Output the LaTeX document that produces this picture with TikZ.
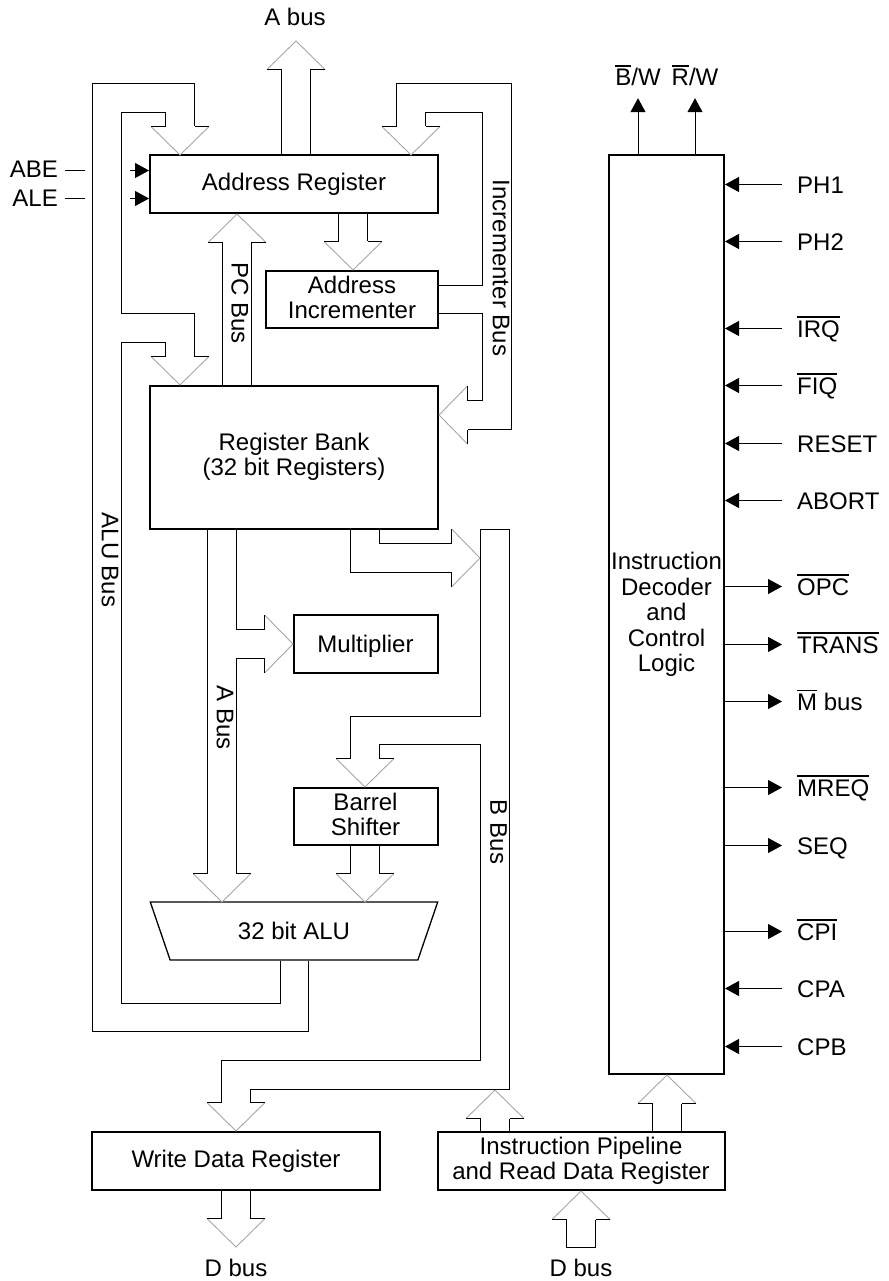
\documentclass[tikz,border=0pt]{standalone}
\usepackage{fontspec}
\setmainfont{Liberation Sans}
\usepackage{tikz}
\usetikzlibrary{arrows.meta,calc,shapes.geometric}

% head of a hollow bus arrow: name, tip, angle (0 south, 90 east, 180 north, 270 west)
\newcommand{\buscap}[3]{%
  \begin{scope}[shift={(#2)},rotate=#3]
    \draw[headline] (-29,-28.5) -- (0,0) -- (29,-28.5);
    \draw[busline] (-29,-28.5) -- (-14.5,-28.5) coordinate (#1l);
    \draw[busline] (29,-28.5) -- (14.5,-28.5) coordinate (#1r);
  \end{scope}}
\newcommand{\ovl}[1]{\leavevmode\vbox{\hrule height 1.7pt \kern 2.6pt \hbox{#1}}}

\begin{document}
\begin{tikzpicture}[
  x=1pt, y=-1pt,
  font=\fontsize{24}{25.5}\selectfont,
  box/.style={draw, line width=2pt, inner sep=0pt, align=center},
  busline/.style={draw, line width=1pt},
  headline/.style={draw, line width=0.9pt, gray!70},
  sigin/.style={line width=1pt, -{Triangle[length=14pt,width=15pt]}},
  sigout/.style={line width=1pt, -{Triangle[length=14pt,width=15pt]}},
  sigtext/.style={inner sep=0pt, text height=18pt, text depth=0pt, anchor=west},
  vertlabel/.style={inner sep=0pt, rotate=-90}
]
  \useasboundingbox (0,0) rectangle (888,1281);

  % Nodes
  \node[box, minimum width=288, minimum height=58] (areg) at (294,184.5) {Address Register};
  \node[box, minimum width=172, minimum height=57, text depth=4pt] (ainc) at (352,299.5) {Address\\Incrementer};
  \node[box, minimum width=288, minimum height=143] (rbank) at (294,457) {Register Bank\\(32 bit Registers)};
  \node[box, minimum width=144, minimum height=58, text height=17pt, text depth=0pt] (mult) at (365.5,644) {Multiplier};
  \node[box, minimum width=144, minimum height=57, text depth=3pt] (bshift) at (365.5,816) {Barrel\\Shifter};
  \node[draw, line width=1.3pt, trapezium, trapezium angle=63, shape border rotate=180,
        trapezium stretches=true, inner sep=0pt, minimum width=288, minimum height=58] (alu) at (294,931) {32 bit ALU};
  \node[box, minimum width=288, minimum height=58] (wdata) at (236,1161) {Write Data Register};
  \node[box, minimum width=287, minimum height=58] (pipe) at (581,1161) {Instruction Pipeline\\and Read Data Register};
  \node[box, minimum width=115, minimum height=919] (ctrl) at (666.5,614.5) {Instruction\\Decoder\\and\\Control\\Logic};

  \node[inner sep=0pt] (abuslabel) at (295,17) {A bus};
  \node[inner sep=0pt] (dout) at (236,1268) {D bus};
  \node[inner sep=0pt] (din) at (581,1268) {D bus};

  \node[vertlabel] (pclabel) at (240,303) {PC Bus};
  \node[vertlabel] (inclabel) at (501,268) {Incrementer Bus};
  \node[vertlabel] (alulabel) at (110,560) {ALU Bus};
  \node[vertlabel] (alabel) at (225,718) {A Bus};
  \node[vertlabel] (blabel) at (498.5,832) {B Bus};

  \node[sigtext, anchor=east] (abe) at (58,169) {ABE};
  \node[sigtext, anchor=east] (ale) at (58,197.5) {ALE};
  \node[sigtext, anchor=center] (bw) at (638,77) {\ovl{B}/W};
  \node[sigtext, anchor=center] (rw) at (695,77) {\ovl{R}/W};

  \node[sigtext] (ph1) at (797,184.5) {PH1};
  \node[sigtext] (ph2) at (797,241.5) {PH2};
  \node[sigtext] (irq) at (797,328.5) {\ovl{IRQ}};
  \node[sigtext] (fiq) at (797,385.5) {\ovl{FIQ}};
  \node[sigtext] (reset) at (797,443.5) {RESET};
  \node[sigtext] (abort) at (797,500.5) {ABORT};
  \node[sigtext] (opc) at (797,586.5) {\ovl{OPC}};
  \node[sigtext] (trans) at (797,644.5) {\ovl{TRANS}};
  \node[sigtext] (mbus) at (797,701.5) {\ovl{M} bus};
  \node[sigtext] (mreq) at (797,787.5) {\ovl{MREQ}};
  \node[sigtext] (seq) at (797,845.5) {SEQ};
  \node[sigtext] (cpi) at (797,931.5) {\ovl{CPI}};
  \node[sigtext] (cpa) at (797,988.5) {CPA};
  \node[sigtext] (cpb) at (797,1046.5) {CPB};

  % Bus heads
  \buscap{aout}{296,41}{180}
  \buscap{alua}{180,155}{0}
  \buscap{aluc}{180,385}{0}
  \buscap{inca}{411,155}{0}
  \buscap{incb}{439,415}{270}
  \buscap{pc}{237,214}{180}
  \buscap{incin}{353,270}{0}
  \buscap{bin}{480,558}{90}
  \buscap{mul}{293,644}{90}
  \buscap{bsin}{365,787}{0}
  \buscap{aop}{222,902}{0}
  \buscap{bop}{365,902}{0}
  \buscap{wd}{236,1131}{0}
  \buscap{dw}{236,1247}{0}
  \buscap{pb}{495,1090}{180}
  \buscap{pcc}{667,1075}{180}
  \buscap{dr}{581,1191}{180}

  % Buses
  \draw[busline] (aoutl) -- (aoutl |- areg.north);
  \draw[busline] (aoutr) -- (aoutr |- areg.north);
  \draw[busline] ([xshift=14.5pt]alu.south) |- (92.5,1031.5) |- (194.5,83.5) -- (aluar);
  \draw[busline] (alual) |- (121.5,112.5) -- (121.5,313.5) -| (alucr);
  \draw[busline] (alucl) |- (121.5,342.5) -- (121.5,1003.5) -| ([xshift=-13.5pt]alu.south);
  \draw[busline] (incal) |- (511.5,83.5) |- (incbr);
  \draw[busline] (incar) |- (482.5,112.5) |- ([yshift=14pt]ainc.east);
  \draw[busline] ([yshift=-14pt]ainc.east) -| (482.5,400.5) -- (incbl);
  \draw[busline] (pcl) -- (pcl |- rbank.north);
  \draw[busline] (pcr) -- (pcr |- rbank.north);
  \draw[busline] (incinl |- areg.south) -- (incinl);
  \draw[busline] (incinr |- areg.south) -- (incinr);
  \draw[busline] (bsinl |- rbank.south) |- (binl);
  \draw[busline] (bsinr |- rbank.south) |- (binr);
  \draw[busline] (aopl |- rbank.south) -- (aopl);
  \draw[busline] (aopr |- rbank.south) |- (mulr);
  \draw[busline] (mull) -| (aopr);
  \draw[busline] (wdr) |- (509.5,1089.5) |- (480.5,529.5) -- (480.5,716.5) -| (bsinl);
  \draw[busline] (bsinr) |- (480.5,744.5) -- (480.5,1060.5) -| (wdl);
  \draw[busline] (bopl |- bshift.south) -- (bopl);
  \draw[busline] (bopr |- bshift.south) -- (bopr);
  \draw[busline] (dwl |- wdata.south) -- (dwl);
  \draw[busline] (dwr |- wdata.south) -- (dwr);
  \draw[busline] (pbl) -- (pbl |- pipe.north);
  \draw[busline] (pbr) -- (pbr |- pipe.north);
  \draw[busline] (pccl) -- (pccl |- pipe.north);
  \draw[busline] (pccr) -- (pccr |- pipe.north);
  \draw[busline] (drl) |- (566.5,1247.5) -- (drr);

  % Arrows
  \draw[line width=1pt] (64.5,170.5) -- (85,170.5);
  \draw[line width=1pt] (64.5,198.5) -- (85,198.5);
  \draw[sigout] (130,170.5) -- (areg.west |- 0,170.5);
  \draw[sigout] (130,198.5) -- (areg.west |- 0,198.5);
  \draw[sigout] (ctrl.north -| bw) -- ([yshift=-12pt]bw.south);
  \draw[sigout] (ctrl.north -| rw) -- ([yshift=-12pt]rw.south);
  \draw[sigin] ([xshift=-15pt]ph1.west) -- (ctrl.east |- ph1.west);
  \draw[sigin] ([xshift=-15pt]ph2.west) -- (ctrl.east |- ph2.west);
  \draw[sigin] ([xshift=-15pt]irq.west) -- (ctrl.east |- irq.west);
  \draw[sigin] ([xshift=-15pt]fiq.west) -- (ctrl.east |- fiq.west);
  \draw[sigin] ([xshift=-15pt]reset.west) -- (ctrl.east |- reset.west);
  \draw[sigin] ([xshift=-15pt]abort.west) -- (ctrl.east |- abort.west);
  \draw[sigout] (ctrl.east |- opc.west) -- ([xshift=-15pt]opc.west);
  \draw[sigout] (ctrl.east |- trans.west) -- ([xshift=-15pt]trans.west);
  \draw[sigout] (ctrl.east |- mbus.west) -- ([xshift=-15pt]mbus.west);
  \draw[sigout] (ctrl.east |- mreq.west) -- ([xshift=-15pt]mreq.west);
  \draw[sigout] (ctrl.east |- seq.west) -- ([xshift=-15pt]seq.west);
  \draw[sigout] (ctrl.east |- cpi.west) -- ([xshift=-15pt]cpi.west);
  \draw[sigin] ([xshift=-15pt]cpa.west) -- (ctrl.east |- cpa.west);
  \draw[sigin] ([xshift=-15pt]cpb.west) -- (ctrl.east |- cpb.west);
\end{tikzpicture}
\end{document}
